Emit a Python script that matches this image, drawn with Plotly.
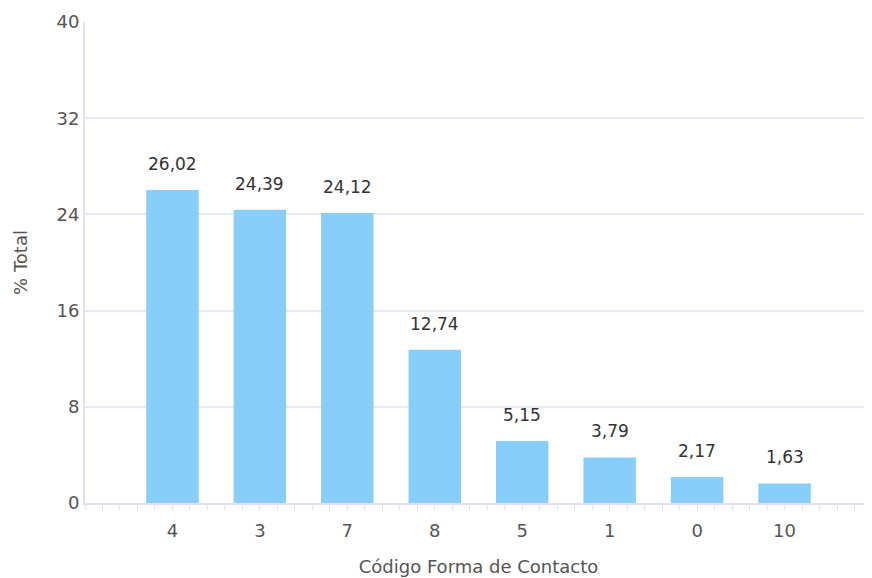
import plotly.graph_objects as go

categories = ["4", "3", "7", "8", "5", "1", "0", "10"]
values = [26.02, 24.39, 24.12, 12.74, 5.15, 3.79, 2.17, 1.63]
y_ticks = [0, 8, 16, 24, 32, 40]

positions = list(range(len(categories)))
labels = [f"{v:.2f}".replace(".", ",") for v in values]

FONT = "DejaVu Sans"
AXIS_COL = "#dfe2f2"

fig = go.Figure()
fig.add_trace(go.Bar(
    x=positions, y=values, width=0.6,
    marker=dict(color="#87cefa", line=dict(width=0)),
    hoverinfo="skip",
))

for x, v, t in zip(positions, values, labels):
    fig.add_annotation(x=x, y=v, text=t, showarrow=False, yanchor="bottom",
                       yshift=14, font=dict(family=FONT, size=17, color="#333333"))

fig.update_layout(
    width=864, height=570,
    margin=dict(l=77, r=0, t=14, b=75),
    plot_bgcolor="white", paper_bgcolor="white",
    showlegend=False,
    font=dict(family=FONT, color="#666666"),
    xaxis=dict(
        range=[-1, 8],
        tickmode="array", tickvals=positions, ticktext=categories,
        ticks="outside", ticklen=5, tickcolor=AXIS_COL,
        minor=dict(tickmode="linear", tick0=0, dtick=0.2, ticks="outside",
                   ticklen=5, tickcolor=AXIS_COL, showgrid=False),
        showline=True, linecolor=AXIS_COL, linewidth=2,
        showgrid=False, zeroline=False,
        tickfont=dict(family=FONT, size=18, color="#555555"),
        ticklabelstandoff=5,
        title=dict(text="Código Forma de Contacto", standoff=21,
                   font=dict(family=FONT, size=18, color="#555555")),
    ),
    yaxis=dict(
        range=[0, 40],
        tickmode="array", tickvals=y_ticks,
        showline=True, linecolor=AXIS_COL, linewidth=2,
        showgrid=True, gridcolor="#e6e8f4", gridwidth=1.5,
        zeroline=False,
        tickfont=dict(family=FONT, size=18, color="#555555"),
        title=dict(text="% Total", standoff=24,
                   font=dict(family=FONT, size=18, color="#555555")),
    ),
)

fig.write_html("out.html")
